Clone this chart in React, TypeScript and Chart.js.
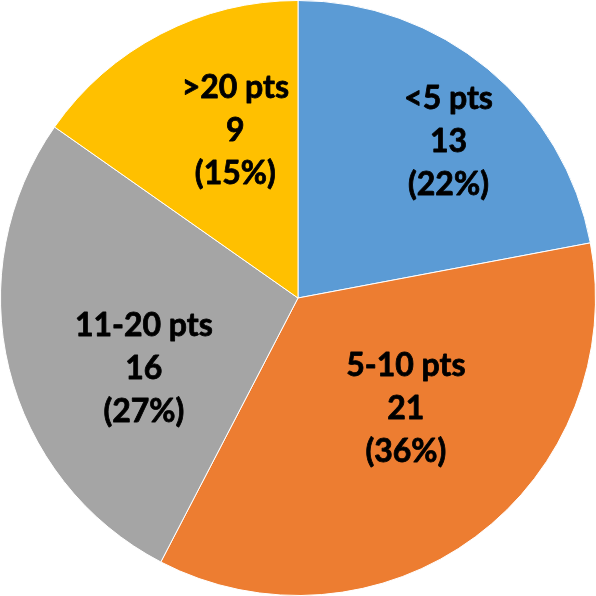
import React, { useEffect, useRef } from "react";
import { Chart, registerables } from "chart.js";

Chart.register(...registerables);

const categories = ["<5 pts", "5-10 pts", "11-20 pts", ">20 pts"];
const counts = [13, 21, 16, 9];
const colors = ["#5B9BD5", "#ED7D31", "#A5A5A5", "#FFC000"];
// label placement tweaks (degrees from slice mid-angle, fraction of radius)
const labelAngleShift = [4.2, -7.6, -10.9, 6.9];
const labelRadiusFrac = [0.73, 0.52, 0.57, 0.6];

const labelPlugin = {
  id: "sliceLabels",
  afterDatasetsDraw(chart: any) {
    const ctx = chart.ctx;
    const meta = chart.getDatasetMeta(0);
    const data = chart.data.datasets[0].data as number[];
    const total = data.reduce((a, b) => a + b, 0);
    ctx.save();
    ctx.fillStyle = "#000";
    ctx.strokeStyle = "#000";
    ctx.lineWidth = 0.8;
    ctx.lineJoin = "round";
    ctx.font = "bold 32px Lato, 'Open Sans', sans-serif";
    ctx.textAlign = "center";
    ctx.textBaseline = "middle";
    const lineH = 43;
    meta.data.forEach((arc: any, i: number) => {
      const p = arc.getProps(["x", "y", "startAngle", "endAngle", "outerRadius"], true);
      const mid = (p.startAngle + p.endAngle) / 2 + (labelAngleShift[i] * Math.PI) / 180;
      const r = p.outerRadius * labelRadiusFrac[i];
      const cx = p.x + Math.cos(mid) * r;
      const cy = p.y + Math.sin(mid) * r;
      const pct = Math.round((data[i] / total) * 100);
      const lines = [String(chart.data.labels[i]), String(data[i]), `(${pct}%)`];
      lines.forEach((t, k) => {
        ctx.fillText(t, cx, cy + (k - 1) * lineH);
        ctx.strokeText(t, cx, cy + (k - 1) * lineH);
      });
    });
    ctx.restore();
  },
};

export default function App() {
  const ref = useRef<HTMLCanvasElement>(null);
  useEffect(() => {
    document.body.style.margin = "0";
    const chart = new Chart(ref.current!, {
      type: "pie",
      data: {
        labels: categories,
        datasets: [
          {
            data: counts,
            backgroundColor: colors,
            borderColor: "#FFFFFF",
            borderWidth: 1,
          },
        ],
      },
      options: {
        animation: false,
        responsive: false,
        maintainAspectRatio: false,
        layout: { padding: 0 },
        plugins: {
          legend: { display: false },
          tooltip: { enabled: false },
        },
      },
      plugins: [labelPlugin],
    });
    return () => chart.destroy();
  }, []);
  return (
    <div style={{ position: "absolute", left: 0, top: 0, width: 596, height: 596, background: "#fff" }}>
      <canvas ref={ref} width={596} height={596} style={{ width: 596, height: 596 }} />
    </div>
  );
}
